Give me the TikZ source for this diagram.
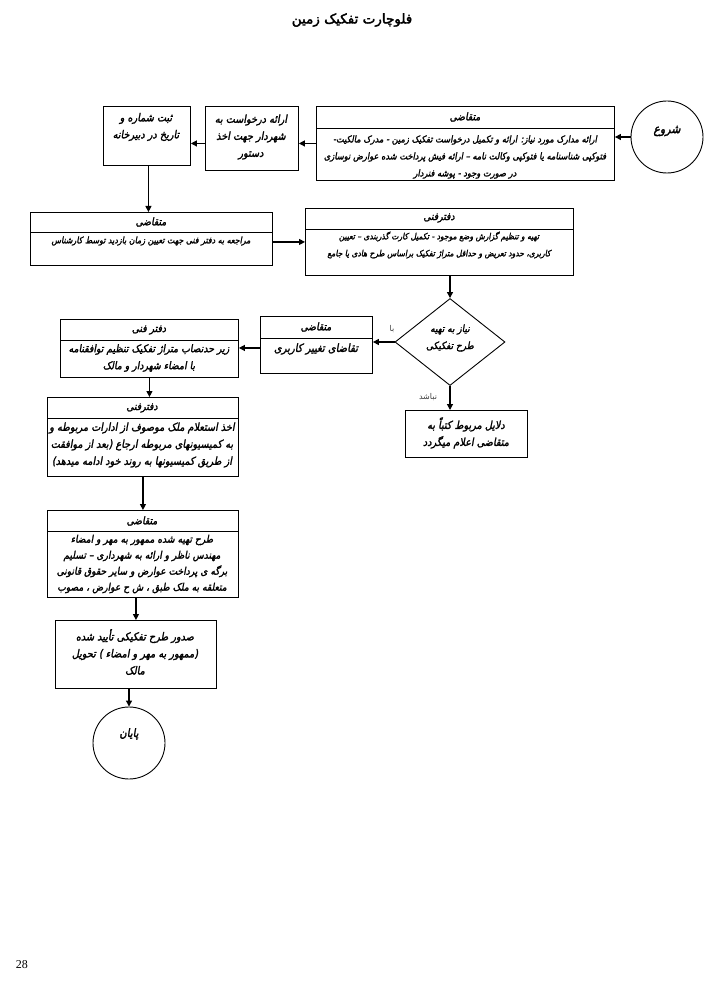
\documentclass[tikz,border=0pt]{standalone}
\usepackage{fontspec}
\setmainfont{Liberation Serif}
\newfontfamily\fabody[Script=Arabic,FakeSlant=0.18,FakeBold=1.8,FakeStretch=0.88]{DejaVu Sans}
\newfontfamily\fatitle[Script=Arabic,FakeBold=2.5]{DejaVu Sans}
\newfontfamily\falight[Script=Arabic]{DejaVu Sans}
\TeXXeTstate=1
\newcommand\faline[1]{{\fabody\beginR #1\endR}}
\newcommand\fatl[1]{{\fatitle\beginR #1\endR}}
\newcommand\falt[1]{{\falight\beginR #1\endR}}
\usetikzlibrary{shapes.geometric,arrows.meta,calc}
\tikzset{
  box/.style={draw, line width=0.9pt, anchor=north west, inner sep=0pt, fill=white},
  txt/.style={align=center, inner sep=0pt, font=\fontsize{#1}{17}\selectfont},
  txt/.default=11,
  hdr/.style={align=center, inner sep=0pt, font=\fontsize{10.5}{12}\selectfont},
  lbl/.style={inner sep=0pt, text=black!75, font=\fontsize{8}{9}\selectfont},
  arr/.style={line width=1.2pt, -{Triangle[length=6pt,width=6pt]}},
  hline/.style={line width=0.7pt},
  roundnode/.style={draw, circle, line width=0.9pt, minimum size=72pt, inner sep=0pt},
  decision/.style={draw, diamond, line width=0.9pt, minimum width=110pt, minimum height=87pt, inner sep=0pt, aspect=1.26}
}
\begin{document}
\begin{tikzpicture}[x=1pt,y=-1pt]
\useasboundingbox[fill=white] (0,0) rectangle (707,1000);

% title
\node[inner sep=0pt, font=\fontsize{13.5}{15}\selectfont] (title) at (352,20) {\fatl{فلوچارت تفکیک زمین}};

% start
\node[roundnode] (S) at (667,137) {};
\node[txt=12.5] (St) at (667,131) {\faline{شروع}};

% box A
\node[box, minimum width=298pt, minimum height=74pt] (A) at (316,106) {};
\draw[hline] ($(A.north west)+(0,22)$) -- ($(A.north east)+(0,22)$);
\node[hdr] (Ah) at (465,117) {\faline{متقاضی}};
\node[txt=9.4] (Ab) at (465,157) {\faline{ارائه مدارک مورد نیاز: ارائه و تکمیل درخواست تفکیک زمین - مدرک مالکیت-}\\
\faline{فتوکپی شناسنامه یا فتوکپی وکالت نامه – ارائه فیش پرداخت شده عوارض نوسازی}\\
\faline{در صورت وجود - پوشه فنردار}};

% box B
\node[box, minimum width=93pt, minimum height=64pt] (B) at (205,106) {};
\node[txt] (Bt) at (251,137) {\faline{ارائه درخواست به}\\\faline{شهردار جهت اخذ}\\\faline{دستور}};

% box C
\node[box, minimum width=87pt, minimum height=59pt] (C) at (103,106) {};
\node[txt] (Ct) at (146,127) {\faline{ثبت شماره و}\\\faline{تاریخ در دبیرخانه}};

% box D
\node[box, minimum width=242pt, minimum height=53pt] (D) at (30,212) {};
\draw[hline] ($(D.north west)+(0,20)$) -- ($(D.north east)+(0,20)$);
\node[hdr] (Dh) at (151,222) {\faline{متقاضی}};
\node[txt=9] (Dt) at (151,241) {\faline{مراجعه به دفتر فنی جهت تعیین زمان بازدید توسط کارشناس}};

% box E
\node[box, minimum width=268pt, minimum height=67pt] (E) at (305,208) {};
\draw[hline] ($(E.north west)+(0,21)$) -- ($(E.north east)+(0,21)$);
\node[hdr] (Eh) at (439,218) {\faline{دفترفنی}};
\node[txt=8.6] (Et) at (439,245) {\faline{تهیه و تنظیم گزارش وضع موجود - تکمیل کارت گذربندی – تعیین}\\
\faline{کاربری، حدود تعریض و حداقل متراژ تفکیک براساس طرح هادی یا جامع}};

% decision
\node[decision] (Q) at (450,342) {};
\node[txt=10.2] (Qt) at (450,338) {\faline{نیاز به تهیه}\\\faline{طرح تفکیکی}};

% box F
\node[box, minimum width=112pt, minimum height=57pt] (F) at (260,316) {};
\draw[hline] ($(F.north west)+(0,22)$) -- ($(F.north east)+(0,22)$);
\node[hdr] (Fh) at (316,327) {\faline{متقاضی}};
\node[txt=11.3] (Ft) at (316,349) {\faline{تقاضای تغییر کاربری}};

% box G
\node[box, minimum width=178pt, minimum height=58pt] (G) at (60,319) {};
\draw[hline] ($(G.north west)+(0,21)$) -- ($(G.north east)+(0,21)$);
\node[hdr] (Gh) at (149,330) {\faline{دفتر فنی}};
\node[txt=10.6] (Gt) at (149,358) {\faline{زیر حدنصاب متراژ تفکیک تنظیم توافقنامه}\\\faline{با امضاء شهردار و مالک}};

% box H
\node[box, minimum width=191pt, minimum height=79pt] (H) at (47,397) {};
\draw[hline] ($(H.north west)+(0,21)$) -- ($(H.north east)+(0,21)$);
\node[hdr] (Hh) at (142,408) {\faline{دفترفنی}};
\node[txt] (Ht) at (142,445) {\faline{اخذ استعلام ملک موصوف از ادارات مربوطه و}\\
\faline{به کمیسیونهای مربوطه ارجاع (بعد از موافقت}\\
\faline{از طریق کمیسیونها به روند خود ادامه میدهد)}};

% box I
\node[box, minimum width=191pt, minimum height=87pt] (I) at (47,510) {};
\draw[hline] ($(I.north west)+(0,21)$) -- ($(I.north east)+(0,21)$);
\node[hdr] (Ih) at (142,521) {\faline{متقاضی}};
\node[align=center, inner sep=0pt, font=\fontsize{10.4}{16}\selectfont] (It) at (142,564) {\faline{طرح تهیه شده ممهور به مهر و امضاء}\\
\faline{مهندس ناظر و ارائه به شهرداری – تسلیم}\\
\faline{برگه ی پرداخت عوارض و سایر حقوق قانونی}\\
\faline{متعلقه به ملک طبق ، ش ح عوارض ، مصوب}};

% box J
\node[box, minimum width=161pt, minimum height=68pt] (J) at (55,620) {};
\node[txt] (Jt) at (135,652) {\faline{صدور طرح تفکیکی تأیید شده}\\
\faline{(ممهور به مهر و امضاء ) تحویل}\\\faline{مالک}};

% end
\node[roundnode] (End) at (129,743) {};
\node[txt=11.5] (Endt) at (129,734) {\faline{پایان}};

% box K
\node[box, minimum width=122pt, minimum height=47pt] (K) at (405,410) {};
\node[txt] (Kt) at (466,433) {\faline{دلایل مربوط کتباً به}\\\faline{متقاضی اعلام میگردد}};

% labels
\node[lbl] (yes) at (392,329) {\falt{با}};
\node[lbl] (no) at (428,397) {\falt{نباشد}};

% page number
\node[inner sep=0pt, font=\fontsize{12}{14}\selectfont] (pg) at (22,965) {28};

% connectors
\draw[arr] (S.west) -- (A.east |- S.west);
\draw[arr] (A.west) -- (B.east |- A.west);
\draw[arr] (B.west |- A.west) -- (C.east |- A.west);
\draw[arr] ([xshift=1.5pt]C.south) -- ([xshift=1.5pt]C.south |- D.north);
\draw[arr] ([yshift=-3pt]D.east) -- ([yshift=-3pt]E.west |- D.east);
\draw[arr] (Q.north |- E.south) -- (Q.north);
\draw[arr] (Q.west) -- (F.east |- Q.west);
\draw[arr] ([yshift=-3pt]F.west) -- ([yshift=-3pt]G.east |- F.west);
\draw[arr] (G.south) -- (G.south |- H.north);
\draw[arr] (H.south) -- (H.south |- I.north);
\draw[arr] (J.north |- I.south) -- (J.north);
\draw[arr] (End.north |- J.south) -- (End.north);
\draw[arr] (Q.south) -- (Q.south |- K.north);
\end{tikzpicture}
\end{document}
